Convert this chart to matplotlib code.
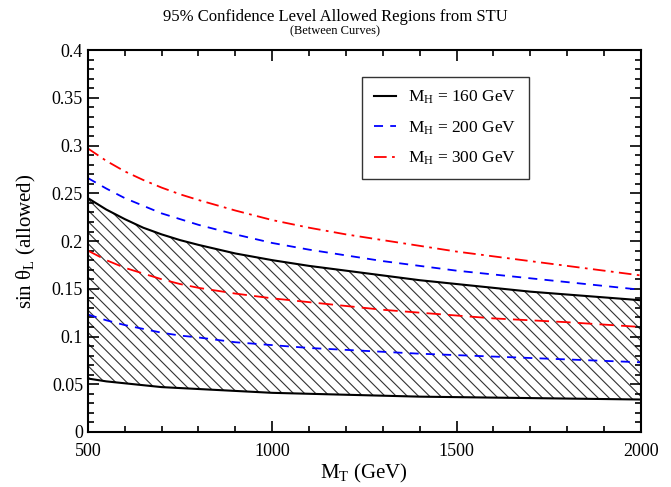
import matplotlib
matplotlib.use("Agg")
import matplotlib.pyplot as plt
from matplotlib.ticker import MultipleLocator

plt.rcParams['font.family'] = ['Liberation Serif', 'DejaVu Serif']
plt.rcParams['mathtext.fontset'] = 'custom'
plt.rcParams['mathtext.rm'] = 'Liberation Serif'
plt.rcParams['mathtext.default'] = 'regular'
plt.rcParams['hatch.linewidth'] = 0.8

# M_T in GeV
mt = [500, 550, 600, 650, 700, 750, 800, 900, 1000, 1100, 1200, 1300, 1400,
      1500, 1600, 1700, 1800, 1900, 2000]

# M_H = 160 GeV
alto_160 = [0.245, 0.233, 0.223, 0.214, 0.207, 0.201, 0.196, 0.187, 0.180, 0.174,
            0.169, 0.164, 0.159, 0.155, 0.151, 0.147, 0.144, 0.141, 0.138]
baixo_160 = [0.056, 0.053, 0.051, 0.049, 0.047, 0.046, 0.045, 0.043, 0.041, 0.040,
             0.039, 0.038, 0.037, 0.0365, 0.036, 0.0355, 0.035, 0.0345, 0.034]
# M_H = 200 GeV
alto_200 = [0.266, 0.255, 0.245, 0.237, 0.229, 0.223, 0.217, 0.207, 0.198, 0.191,
            0.185, 0.179, 0.174, 0.169, 0.165, 0.161, 0.157, 0.153, 0.149]
baixo_200 = [0.123, 0.117, 0.112, 0.108, 0.104, 0.101, 0.099, 0.094, 0.091, 0.088,
             0.086, 0.084, 0.082, 0.0805, 0.079, 0.0775, 0.076, 0.0745, 0.073]
# M_H = 300 GeV
alto_300 = [0.297, 0.284, 0.273, 0.264, 0.256, 0.249, 0.243, 0.232, 0.222, 0.214,
            0.207, 0.201, 0.195, 0.189, 0.184, 0.179, 0.174, 0.169, 0.164]
baixo_300 = [0.190, 0.180, 0.172, 0.166, 0.160, 0.155, 0.151, 0.145, 0.140, 0.136,
             0.132, 0.128, 0.125, 0.122, 0.119, 0.117, 0.115, 0.1125, 0.110]

fig = plt.figure(figsize=(6.71, 4.87), dpi=100)
ax = fig.add_axes([0.131, 0.113, 0.824, 0.784])

ax.fill_between(mt, baixo_160, alto_160, facecolor='none', edgecolor='#333333',
                hatch='\\\\\\', linewidth=0)

ax.plot(mt, alto_160, color='black', lw=1.5, label=r'M$_H$ = 160 GeV')
ax.plot(mt, baixo_160, color='black', lw=1.5)
ax.plot(mt, alto_200, color='blue', lw=1.3, linestyle=(0, (5, 4)), label=r'M$_H$ = 200 GeV')
ax.plot(mt, baixo_200, color='blue', lw=1.3, linestyle=(0, (5, 4)))
ax.plot(mt, alto_300, color='red', lw=1.3, linestyle=(0, (7, 3, 1.5, 3)), label=r'M$_H$ = 300 GeV')
ax.plot(mt, baixo_300, color='red', lw=1.3, linestyle=(0, (8, 4)))

ax.set_xlim(500, 2000)
ax.set_ylim(0, 0.4)
ax.xaxis.set_major_locator(MultipleLocator(500))
ax.xaxis.set_minor_locator(MultipleLocator(100))
ax.set_yticks([0, 0.05, 0.1, 0.15, 0.2, 0.25, 0.3, 0.35, 0.4])
ax.set_yticklabels(['0', '0.05', '0.1', '0.15', '0.2', '0.25', '0.3', '0.35', '0.4'])
ax.yaxis.set_minor_locator(MultipleLocator(0.01))
ax.tick_params(which='both', direction='in', top=True, right=True, labelsize=13, width=1.2)
ax.tick_params(which='major', length=8)
ax.tick_params(which='minor', length=4)
ax.tick_params(axis='x', pad=8)
for s in ax.spines.values():
    s.set_linewidth(1.5)

ax.set_xlabel(r'M$_T$ (GeV)', fontsize=15, labelpad=1)
ax.set_ylabel(r'sin θ$_L$ (allowed)', fontsize=15, labelpad=10)

fig.text(0.5, 0.965, '95% Confidence Level Allowed Regions from STU', ha='center', va='center', fontsize=12)
fig.text(0.5, 0.935, '(Between Curves)', ha='center', va='center', fontsize=9)

leg = ax.legend(loc='upper left', bbox_to_anchor=(0.495, 0.93), fontsize=12.5, frameon=True,
                fancybox=False, handlelength=1.3, handletextpad=0.7, borderpad=0.7,
                labelspacing=0.75, borderaxespad=0)
leg.get_frame().set_edgecolor('black')
leg.get_frame().set_linewidth(1.0)

fig.savefig('out.png', dpi=100)
